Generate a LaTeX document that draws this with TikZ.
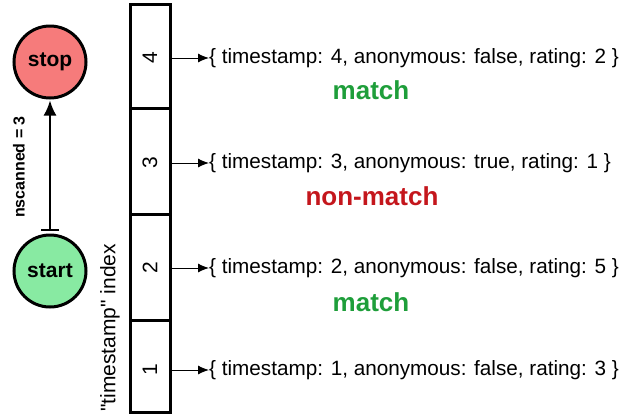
\documentclass[tikz,border=0pt]{standalone}
\usepackage{fontspec}
\setmainfont{Liberation Sans}
\usetikzlibrary{arrows.meta}
\definecolor{stopred}{HTML}{F67B7B}
\definecolor{startgreen}{HTML}{88EAA2}
\definecolor{matchgreen}{HTML}{1E9E3A}
\definecolor{nonred}{HTML}{C4161C}
\tikzset{
  endpoint/.style={circle, draw=black, line width=3pt, minimum size=72pt, inner sep=0pt, font=\bfseries\fontsize{21}{24}\selectfont},
  cell/.style={draw=black, line width=3pt, minimum width=40pt, inner sep=0pt},
  cellnum/.style={rotate=90, font=\fontsize{21}{24}\selectfont},
  doc/.style={anchor=west, inner sep=0pt, font=\fontsize{20.7}{24}\selectfont},
  verdict/.style={inner sep=0pt, font=\bfseries\fontsize{26}{30}\selectfont},
  ptr/.style={line width=1pt, -{Latex[length=11pt,width=9pt]}}
}
\begin{document}
\begin{tikzpicture}[x=1pt,y=-1pt]
\useasboundingbox (0,0) rectangle (625,416);
% index cells
\node[cell, minimum height=104pt] (c4) at (150,56) {};
\node[cell, minimum height=106pt] (c3) at (150,161) {};
\node[cell, minimum height=106pt] (c2) at (150,267) {};
\node[cell, minimum height=92pt] (c1) at (150,366) {};
\node[cellnum] (n4) at (150,58) {4};
\node[cellnum] (n3) at (150,163) {3};
\node[cellnum] (n2) at (150,268) {2};
\node[cellnum] (n1) at (150,370) {1};
% documents
\node[doc] (t4) at (209,58) {\{ timestamp: 4, anonymous: false, rating: 2 \}};
\node[doc] (t3) at (209,163) {\{ timestamp: 3, anonymous: true, rating: 1 \}};
\node[doc] (t2) at (209,268) {\{ timestamp: 2, anonymous: false, rating: 5 \}};
\node[doc] (t1) at (209,370) {\{ timestamp: 1, anonymous: false, rating: 3 \}};
\draw[ptr] (t4.west -| c4.east) -- (t4.west);
\draw[ptr] (t3.west -| c3.east) -- (t3.west);
\draw[ptr] (t2.west -| c2.east) -- (t2.west);
\draw[ptr] (t1.west -| c1.east) -- (t1.west);
% verdicts
\node[verdict, text=matchgreen] (v4) at (371,90) {match};
\node[verdict, text=nonred] (v3) at (372,196) {non-match};
\node[verdict, text=matchgreen] (v2) at (371,302) {match};
% index label
\node[rotate=90, inner sep=0pt, font=\fontsize{21}{24}\selectfont] (idx) at (110,328) {\textquotedbl timestamp\textquotedbl{} index};
% start / stop
\node[endpoint, fill=stopred] (stop) at (50,62) {stop};
\node[endpoint, fill=startgreen] (start) at (50,271) {start};
\draw[line width=2pt, {Bar[width=18pt]}-{Latex[length=15pt,width=13pt]}, shorten <=3pt, shorten >=1pt] (start) -- (stop);
\node[rotate=90, inner sep=0pt, font=\bfseries\fontsize{16}{18}\selectfont] (ns) at (19,167) {nscanned = 3};
\end{tikzpicture}
\end{document}
